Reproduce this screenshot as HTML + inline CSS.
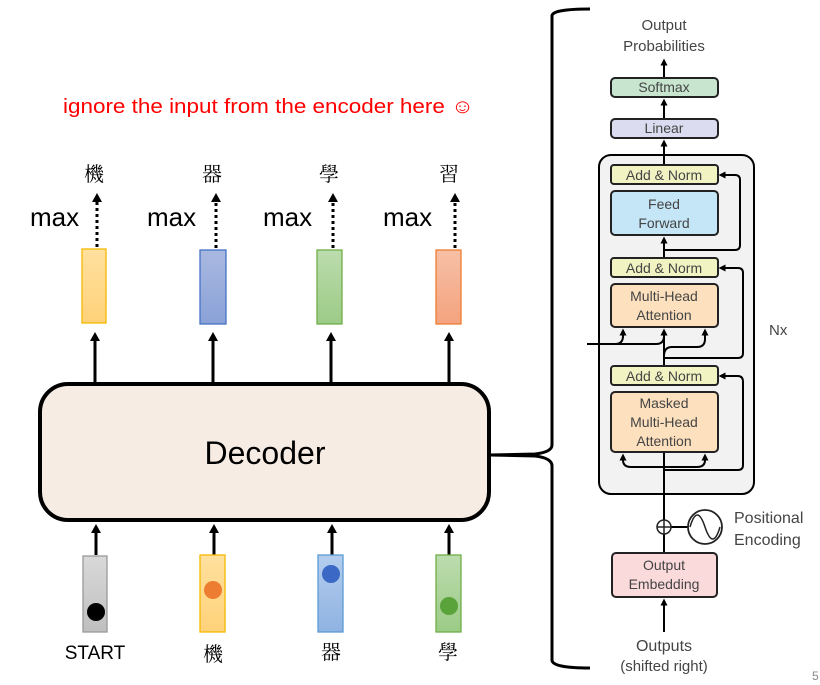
<!DOCTYPE html>
<html><head><meta charset="utf-8"><style>
html,body{margin:0;padding:0;background:#fff;}
svg{display:block;}
.s{font-family:"Liberation Sans","Noto Sans CJK TC",sans-serif;}
.c{font-family:"Noto Serif CJK SC","Noto Sans CJK TC",serif;}
.t{font-family:"Liberation Sans",sans-serif;fill:#444;}
</style></head><body>
<svg width="820" height="685" viewBox="0 0 820 685" xmlns="http://www.w3.org/2000/svg">
<defs>
<marker id="a" markerWidth="8" markerHeight="8" refX="4" refY="4" orient="auto" markerUnits="userSpaceOnUse">
<path d="M0,0 L8,4 L0,8 z" fill="#000"/></marker>
<marker id="b" markerWidth="7" markerHeight="7" refX="3.5" refY="3.5" orient="auto" markerUnits="userSpaceOnUse">
<path d="M0,0 L7,3.5 L0,7 z" fill="#000"/></marker>
<linearGradient id="gy" x1="0" y1="0" x2="0" y2="1"><stop offset="0" stop-color="#ffe09e"/><stop offset="1" stop-color="#ffd27a"/></linearGradient>
<linearGradient id="gb" x1="0" y1="0" x2="0" y2="1"><stop offset="0" stop-color="#a9b8e0"/><stop offset="1" stop-color="#8aa2d8"/></linearGradient>
<linearGradient id="gg" x1="0" y1="0" x2="0" y2="1"><stop offset="0" stop-color="#bcdcae"/><stop offset="1" stop-color="#9ccb86"/></linearGradient>
<linearGradient id="go" x1="0" y1="0" x2="0" y2="1"><stop offset="0" stop-color="#f6c0a6"/><stop offset="1" stop-color="#f4a37f"/></linearGradient>
<linearGradient id="gr" x1="0" y1="0" x2="0" y2="1"><stop offset="0" stop-color="#d9d9d9"/><stop offset="1" stop-color="#bfbfbf"/></linearGradient>
<linearGradient id="gl" x1="0" y1="0" x2="0" y2="1"><stop offset="0" stop-color="#b4cdee"/><stop offset="1" stop-color="#8fb3e2"/></linearGradient>
</defs>

<text x="63" y="113" class="s" font-size="20" fill="#ff0000" textLength="411" lengthAdjust="spacingAndGlyphs">ignore the input from the encoder here ☺</text>

<!-- output chars -->
<g class="c" font-size="20" fill="#000" text-anchor="middle">
<text x="94" y="181">機</text><text x="212" y="181">器</text><text x="329" y="181">學</text><text x="449" y="181">習</text>
</g>
<g class="s" font-size="26" fill="#000">
<text x="30" y="226">max</text><text x="147" y="226">max</text><text x="263" y="226">max</text><text x="383" y="226">max</text>
</g>
<g stroke="#000" stroke-width="3" stroke-dasharray="3,3">
<line x1="97" y1="247" x2="97" y2="200"/><line x1="216" y1="248" x2="216" y2="200"/>
<line x1="333" y1="248" x2="333" y2="200"/><line x1="455" y1="248" x2="455" y2="200"/>
</g>
<g fill="#000">
<path d="M92,202 L97,193 L102,202z"/><path d="M211,202 L216,193 L221,202z"/>
<path d="M328,202 L333,193 L338,202z"/><path d="M450,202 L455,193 L460,202z"/>
</g>
<rect x="82" y="249" width="24" height="74" fill="url(#gy)" stroke="#f5b800" stroke-width="1.3"/>
<rect x="200" y="250" width="26" height="74" fill="url(#gb)" stroke="#4472c4" stroke-width="1.3"/>
<rect x="317" y="250" width="25" height="74" fill="url(#gg)" stroke="#70ad47" stroke-width="1.3"/>
<rect x="436" y="250" width="25" height="74" fill="url(#go)" stroke="#ed7d31" stroke-width="1.3"/>
<g stroke="#000" stroke-width="3">
<line x1="95" y1="384" x2="95" y2="340"/><line x1="213" y1="384" x2="213" y2="340"/>
<line x1="331" y1="384" x2="331" y2="340"/><line x1="449" y1="384" x2="449" y2="340"/>
</g>
<g fill="#000">
<path d="M90,341 L95,332 L100,341z"/><path d="M208,341 L213,332 L218,341z"/>
<path d="M326,341 L331,332 L336,341z"/><path d="M444,341 L449,332 L454,341z"/>
</g>

<!-- decoder -->
<rect x="40" y="384" width="449" height="136" rx="28" fill="#f7ece3" stroke="#000" stroke-width="4"/>
<text x="265" y="464" text-anchor="middle" class="s" font-size="32" fill="#000">Decoder</text>

<!-- inputs -->
<g stroke="#000" stroke-width="3">
<line x1="96" y1="555" x2="96" y2="532"/><line x1="214" y1="555" x2="214" y2="532"/>
<line x1="332" y1="555" x2="332" y2="532"/><line x1="449" y1="555" x2="449" y2="532"/>
</g>
<g fill="#000">
<path d="M91,533 L96,524 L101,533z"/><path d="M209,533 L214,524 L219,533z"/>
<path d="M327,533 L332,524 L337,533z"/><path d="M444,533 L449,524 L454,533z"/>
</g>
<rect x="83" y="556" width="24" height="76" fill="url(#gr)" stroke="#999" stroke-width="1.3"/>
<circle cx="96" cy="612" r="9" fill="#000"/>
<rect x="200" y="555" width="25" height="77" fill="url(#gy)" stroke="#f5b800" stroke-width="1.3"/>
<circle cx="213" cy="590" r="9" fill="#ed7d31"/>
<rect x="318" y="555" width="25" height="77" fill="url(#gl)" stroke="#5b9bd5" stroke-width="1.3"/>
<circle cx="331" cy="574" r="9" fill="#3a68c4"/>
<rect x="436" y="555" width="25" height="77" fill="url(#gg)" stroke="#70ad47" stroke-width="1.3"/>
<circle cx="449" cy="606" r="9" fill="#5aa33a"/>
<text x="95" y="659" text-anchor="middle" class="s" font-size="19" fill="#000">START</text>
<g class="c" font-size="20" fill="#000" text-anchor="middle">
<text x="213" y="661">機</text><text x="331" y="659">器</text><text x="448" y="659">學</text>
</g>

<!-- brace -->
<path d="M590,9 Q552,9 552,16 L552,445 Q552,452 535,454 L490,455 L535,456 Q552,458 552,466 L552,660 Q552,668 590,668" fill="none" stroke="#000" stroke-width="3"/>

<!-- transformer -->
<text x="664" y="30" text-anchor="middle" class="t" font-size="15">Output</text>
<text x="664" y="51" text-anchor="middle" class="t" font-size="15">Probabilities</text>
<rect x="599" y="155" width="155" height="339" rx="12" fill="#f2f2f2" stroke="#000" stroke-width="2"/>
<g stroke="#000" stroke-width="2" fill="none">
<line x1="664" y1="77" x2="664" y2="62" marker-end="url(#b)"/>
<line x1="664" y1="118" x2="664" y2="102" marker-end="url(#b)"/>
<line x1="664" y1="165" x2="664" y2="143" marker-end="url(#b)"/>
<line x1="664" y1="258" x2="664" y2="240" marker-end="url(#b)"/>
<line x1="664" y1="366" x2="664" y2="332" marker-end="url(#b)"/>
<line x1="664" y1="553" x2="664" y2="398" marker-end="url(#b)"/>
<line x1="664" y1="632" x2="664" y2="602" marker-end="url(#b)"/>
<path d="M664,250 L735,250 Q740,250 740,245 L740,180 Q740,175 735,175 L722,175" marker-end="url(#b)"/>
<path d="M664,358 L738,358 Q743,358 743,353 L743,273 Q743,268 738,268 L722,268" marker-end="url(#b)"/>
<path d="M664,470 L738,470 Q743,470 743,465 L743,382 Q743,376 738,376 L722,376" marker-end="url(#b)"/>
<path d="M587,344 L615,344 Q623,344 623,336 L623,332" marker-end="url(#b)"/>
<path d="M615,344 L656,344 Q664,344 664,336"/>
<path d="M664,356 Q664,347 672,347 L697,347 Q705,347 705,339 L705,332" marker-end="url(#b)"/>
<path d="M664,467 L631,467 Q623,467 623,460 L623,457" marker-end="url(#b)"/>
<path d="M664,467 L697,467 Q705,467 705,460 L705,457" marker-end="url(#b)"/>
<line x1="671" y1="527" x2="688" y2="527"/>
</g>
<g stroke="#222" stroke-width="2">
<rect x="611" y="78" width="107" height="19" rx="4" fill="#c8e6cf"/>
<rect x="611" y="119" width="107" height="19" rx="4" fill="#dcdcf0"/>
<rect x="611" y="165" width="107" height="19" rx="3" fill="#f1f4c2"/>
<rect x="611" y="191" width="107" height="44" rx="4" fill="#c5e6f6"/>
<rect x="611" y="258" width="107" height="19" rx="3" fill="#f1f4c2"/>
<rect x="611" y="284" width="107" height="43" rx="4" fill="#fde0bd"/>
<rect x="611" y="366" width="107" height="19" rx="3" fill="#f1f4c2"/>
<rect x="611" y="392" width="107" height="60" rx="4" fill="#fde0bd"/>
<rect x="612" y="553" width="105" height="44" rx="4" fill="#fbdadb"/>
</g>
<circle cx="664" cy="527" r="7" fill="#fff" stroke="#222" stroke-width="1.5"/>
<path d="M657,527 H671 M664,520 V534" stroke="#222" stroke-width="1.5"/>
<circle cx="705" cy="527" r="17" fill="#fff" stroke="#222" stroke-width="1.8"/>
<path d="M690,527 C695,510 700,512 705,527 C710,542 715,544 720,527" fill="none" stroke="#222" stroke-width="1.5"/>
<g class="t" font-size="14" text-anchor="middle">
<text x="664" y="92">Softmax</text>
<text x="664" y="133">Linear</text>
<text x="664" y="180">Add &amp; Norm</text>
<text x="664" y="209">Feed</text><text x="664" y="228">Forward</text>
<text x="664" y="273">Add &amp; Norm</text>
<text x="664" y="301">Multi-Head</text><text x="664" y="320">Attention</text>
<text x="664" y="381">Add &amp; Norm</text>
<text x="664" y="408">Masked</text><text x="664" y="427">Multi-Head</text><text x="664" y="446">Attention</text>
<text x="664" y="570">Output</text><text x="664" y="589">Embedding</text>
</g>
<text x="769" y="335" class="t" font-size="15">Nx</text>
<text x="734" y="523" class="t" font-size="16">Positional</text>
<text x="734" y="545" class="t" font-size="16">Encoding</text>
<text x="664" y="651" text-anchor="middle" class="t" font-size="16">Outputs</text>
<text x="664" y="671" text-anchor="middle" class="t" font-size="15">(shifted right)</text>
<text x="812" y="680" class="s" font-size="12" fill="#888">5</text>
</svg>
</body></html>
